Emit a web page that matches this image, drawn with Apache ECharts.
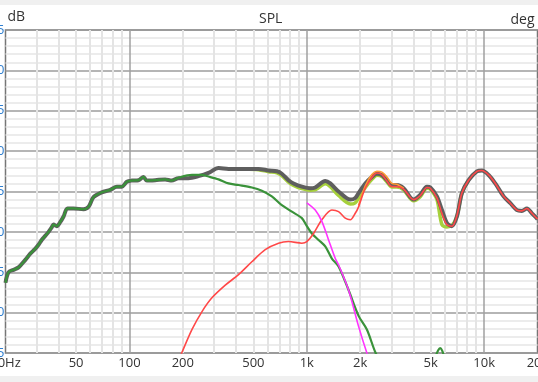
<!DOCTYPE html>
<html><head><meta charset="utf-8">
<script src="https://cdn.jsdelivr.net/npm/echarts@6/dist/echarts.min.js"></script>
<style>html,body{margin:0;padding:0;background:#f0f0f0;width:538px;height:382px;overflow:hidden}
#c{position:absolute;left:0;top:5px;width:538px;height:371px;background:#fff}</style>
</head><body><div id="c"></div>
<script>
// Total SPL (gray)
const totalFreq = [20,20.8,22.2,23.7,25.8,27.6,29.4,30.7,32.0,33.5,35.0,36.5,37.3,38.9,40.7,42.5,44.7,48.4,55.1,58.8,62.7,69.8,77.9,84.9,90.6,96.7,103,112.5,120,125.3,139.7,159,173,189,215,245,279,318,362,450,535,609,678,723,789,842,938,1046,1116,1271,1357,1511,1759,1876,1959,2138,2328,2485,2652,2830,3019,3222,3515,4002,4366,4756,4972,5417,5781,6166,6581,7022,7494,8177,9103,9715,10600,11560,12880,14050,15310,16330,17430,18600,19770,20000];
const totalDb = [63.7,65.0,65.3,65.6,66.5,67.3,67.9,68.4,69.0,69.5,70.0,70.6,70.9,70.7,71.2,71.9,72.9,72.9,72.8,73.1,74.3,74.9,75.2,75.6,75.6,76.2,76.35,76.4,76.8,76.35,76.4,76.5,76.35,76.65,76.65,76.9,77.3,77.9,77.8,77.8,77.8,77.6,77.5,77.2,76.4,76.0,75.6,75.4,75.5,76.3,76.0,75.0,74.0,74.2,74.8,76.0,76.8,77.2,77.05,76.4,75.8,75.8,75.4,74.0,74.6,75.6,75.5,74.4,72.7,71.1,70.7,71.9,74.8,76.4,77.5,77.6,77.05,76.0,74.4,73.55,72.7,72.6,72.9,72.3,71.7,71.6];
// Total variant (yellow-green)
const altFreq = [450,535,609,678,723,789,842,938,1046,1116,1271,1357,1511,1759,1876,1959,2138,2328,2485,2652,2830,3019,3222,3515,4002,4366,4756,4972,5417,5781,6166,6581,7022,7494,8177];
const altDb = [77.8,77.7,77.45,77.3,76.95,76.15,75.75,75.35,75.15,75.2,75.95,75.6,74.5,73.45,73.6,74.2,75.5,76.5,77.0,76.85,76.2,75.55,75.55,75.2,73.85,74.35,75.4,75.3,74.0,70.9,70.6,70.8,71.9,74.8,76.4];
// Woofer (green)
const wooferFreq = [20,20.8,22.2,23.7,25.8,27.6,29.4,30.7,32.0,33.5,35.0,36.5,37.3,38.9,40.7,42.5,44.7,48.4,55.1,58.8,62.7,69.8,77.9,84.9,90.6,96.7,103,112.5,120,125.3,139.7,159,173,189,225,256,279,318,362,412,490,558,635,723,824,938,1001,1068,1165,1271,1385,1511,1720,1959,2182,2434,2600,4000,5300,5500,5650,5800,5950];
const wooferDb = [63.7,65.0,65.3,65.6,66.5,67.3,67.9,68.4,69.0,69.5,70.0,70.6,70.9,70.7,71.2,71.9,72.9,72.9,72.8,73.1,74.3,74.9,75.2,75.6,75.6,76.2,76.35,76.4,76.8,76.35,76.4,76.5,76.35,76.7,77.05,77.05,76.85,76.5,76.0,75.8,75.5,75.1,74.4,73.3,72.5,71.7,70.7,69.8,69.0,68.2,66.7,65.7,62.8,59.6,57.9,55.1,54.0,null,54.5,55.3,55.6,55.3,54.5];
// Tweeter (red)
const tweeterFreq = [190,197,225,256,291,347,412,490,583,693,789,938,1001,1092,1216,1385,1511,1648,1759,1876,1959,2138,2380,2485,2652,2830,3019,3222,3515,4002,4366,4756,4972,5417,5781,6166,6581,7022,7494,8177,9103,9715,10600,11560,12880,14050,15310,16330,17430,18600,19770,20000];
const tweeterDb = [54.2,55.0,57.9,60.1,61.8,63.4,64.7,66.3,67.8,68.6,68.8,68.6,68.8,69.8,71.5,72.7,72.5,71.7,71.5,72.3,73.1,75.4,77.0,77.3,77.1,76.3,75.6,75.6,75.3,74.0,74.5,75.5,75.4,74.2,72.3,70.9,70.7,72.0,74.8,76.4,77.5,77.6,77.05,76.0,74.4,73.55,72.7,72.6,72.9,72.3,71.7,71.6];
// Tweeter variant (orange)
const orangeFreq = [1959,2138,2328,2485,2652,2830,3019,3222,3515];
const orangeDb = [73.3,75.7,77.1,77.5,77.4,76.8,76.0,75.9,75.4];
// Magenta
const magentaFreq = [1001,1116,1216,1327,1448,1511,1720,1959,2182,2250];
const magentaDb = [73.6,72.7,71.3,69.0,66.7,65.9,62.8,58.3,55.0,54.3];

const xLabelFreqs = [20,50,100,200,500,1000,2000,5000,10000,20000];
const xMinorFreqs = [30,40,50,60,70,80,90,200,300,400,500,600,700,800,900,2000,3000,4000,5000,6000,7000,8000,9000];
const xMajorFreqs = [100,1000,10000];
const yMin = 55, yMax = 95, yStep = 5;

const lg = Math.log10;
const pairs = (f, v) => f.map((x, i) => [lg(x), v[i] == null ? '-' : v[i]]);
const fmtFreq = v => {
  const f = Math.round(Math.pow(10, v));
  if (f === 20) return '20Hz';
  return f >= 1000 ? (f / 1000) + 'k' : String(f);
};
const FONT = 'Open Sans';

const chart = echarts.init(document.getElementById('c'), null, {renderer: 'canvas'});
const line = (name, data, color, width, z) => ({
  name, type: 'line', data, symbol: 'none', smooth: 0.3, z,
  lineStyle: {color, width}, xAxisIndex: 0, yAxisIndex: 0
});
chart.setOption({
  animation: false,
  title: {text: 'SPL', left: 259, top: 7, padding: 0,
    textStyle: {fontFamily: FONT, fontSize: 14, fontWeight: 'normal', color: '#333'}},
  grid: {left: 5.5, top: 25, width: 532, height: 323, containLabel: false, outerBoundsMode: 'none',
    show: true, borderColor: '#767676', borderWidth: 1.5, backgroundColor: '#fff'},
  xAxis: [{
    type: 'value', min: lg(20), max: lg(20000), position: 'bottom',
    axisLine: {show: false}, axisTick: {show: false, customValues: xMinorFreqs.map(lg)},
    axisLabel: {customValues: xLabelFreqs.map(lg), formatter: fmtFreq, margin: 4,
      fontFamily: FONT, fontSize: 13, color: '#333', showMinLabel: true, showMaxLabel: true, hideOverlap: false},
    splitLine: {show: true, lineStyle: {color: '#e4e4e4', width: 2}}
  }, {
    type: 'value', min: lg(20), max: lg(20000), position: 'top',
    axisLine: {show: false}, axisTick: {show: false, customValues: xMajorFreqs.map(lg)},
    axisLabel: {show: false},
    splitLine: {show: true, lineStyle: {color: '#a0a0a0', width: 1.5}}
  }],
  yAxis: [{
    type: 'value', min: yMin, max: yMax, interval: yStep, position: 'left',
    name: 'dB', nameLocation: 'end', nameGap: 3,
    nameTextStyle: {fontFamily: FONT, fontSize: 14, color: '#333', align: 'left', verticalAlign: 'bottom', padding: [0, 0, 0, 2]},
    axisLine: {show: false}, axisTick: {show: false},
    axisLabel: {margin: 1, fontFamily: FONT, fontSize: 13, color: '#2f7fd0'},
    splitLine: {show: true, lineStyle: {color: '#9c9c9c', width: 1.5}},
    minorTick: {show: false, splitNumber: 5},
    minorSplitLine: {show: true, lineStyle: {color: '#e6e6e6', width: 1.5}}
  }, {
    type: 'value', min: -180, max: 180, position: 'right',
    name: 'deg', nameLocation: 'end', nameGap: 3,
    nameTextStyle: {fontFamily: FONT, fontSize: 14, color: '#333', align: 'right', verticalAlign: 'bottom', padding: [0, 3, 0, 0]},
    axisLine: {show: false}, axisTick: {show: false}, axisLabel: {show: false}, splitLine: {show: false}
  }],
  series: [
    line('Total alt', pairs(altFreq, altDb), '#a6d03c', 3.5, 2),
    line('Total', pairs(totalFreq, totalDb), '#5e5e5e', 4, 3),
    line('Woofer', pairs(wooferFreq, wooferDb), '#3a923a', 2.2, 4),
    line('Tweeter alt', pairs(orangeFreq, orangeDb), '#ff9933', 1.6, 5),
    line('Tweeter', pairs(tweeterFreq, tweeterDb), '#ff4848', 1.6, 6),
    line('Filter', pairs(magentaFreq, magentaDb), '#ff33ff', 1.6, 7)
  ]
});
</script></body></html>
